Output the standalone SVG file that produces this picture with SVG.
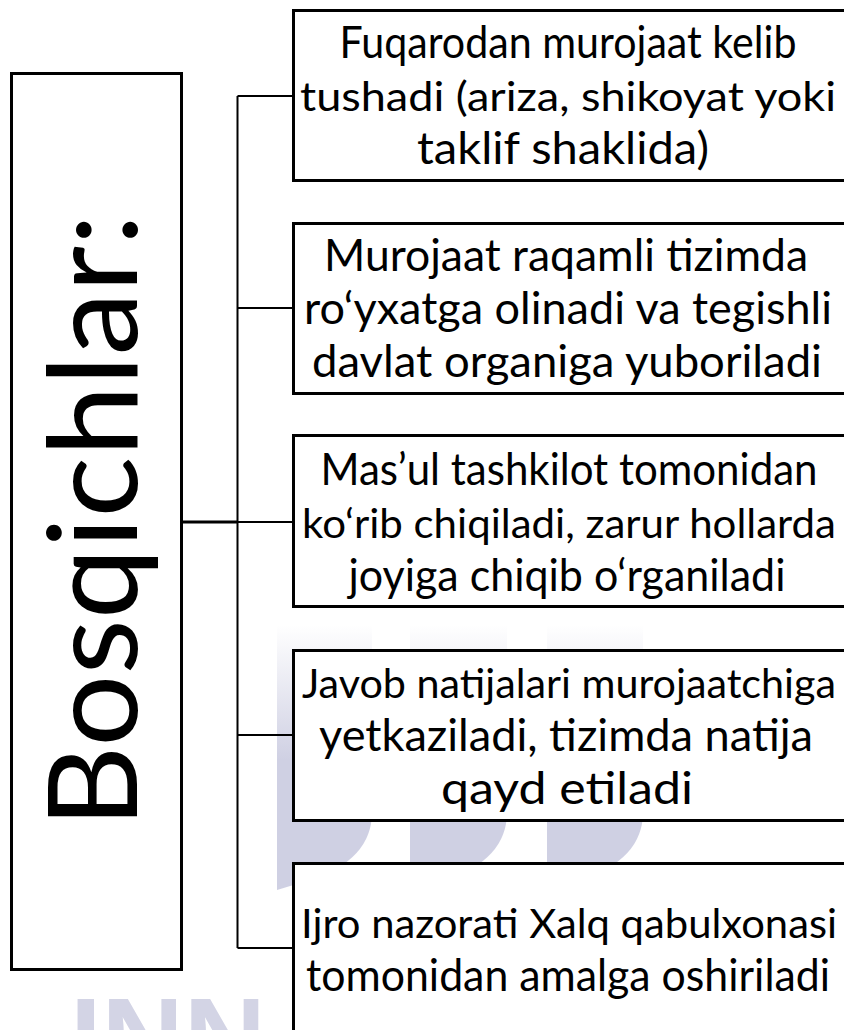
<svg xmlns="http://www.w3.org/2000/svg" width="844" height="1030" viewBox="0 0 844 1030">
<defs>
<style>
.box{fill:#ffffff;stroke:#000000;stroke-width:3}
.t{font-family:Lato,"Open Sans","Liberation Sans",sans-serif;font-size:44px;fill:#000000;text-anchor:middle}
.w{font-size:41px}
.title{font-family:Lato,"Open Sans","Liberation Sans",sans-serif;font-size:124px;fill:#000000;text-anchor:middle}
.conn{stroke:#000000;stroke-width:2;fill:none}
.wm{fill:url(#wmfade)}
</style>
<linearGradient id="wmfade" gradientUnits="userSpaceOnUse" x1="0" y1="625" x2="0" y2="760">
<stop offset="0" stop-color="#cfd0e3" stop-opacity="0"/>
<stop offset="1" stop-color="#cfd0e3" stop-opacity="1"/>
</linearGradient>
</defs>
<rect width="844" height="1030" fill="#ffffff"/>
<g id="watermark">
<path class="wm" d="M277,625 H372 V812 Q372,860 310,880 L277,890 Z"/>
<path class="wm" d="M410,625 H507 V812 Q507,860 445,880 L410,890 Z"/>
<path class="wm" d="M547,625 H643 V812 Q643,860 580,880 L547,890 Z"/>
<text x="70" y="1077" font-family="Liberation Sans, sans-serif" font-weight="bold" font-size="114" fill="#d3d4e5" textLength="196" lengthAdjust="spacingAndGlyphs">INN</text>
</g>
<g id="connectors">
<path class="conn" d="M237.5,96 V948"/>
<path class="conn" d="M237.5,96 H293"/>
<path class="conn" d="M237.5,308 H293"/>
<path class="conn" d="M237.5,522 H293"/>
<path class="conn" d="M237.5,735 H293"/>
<path class="conn" d="M237.5,948 H293"/>
<path class="conn" style="stroke-width:3" d="M182,522 H237.5"/>
</g>
<g id="title">
<rect class="box" x="11.5" y="73.5" width="170" height="896"/>
<text class="title" transform="translate(137,521) rotate(-90)" x="0" y="0" textLength="614" lengthAdjust="spacingAndGlyphs">Bosqichlar:</text>
</g>
<g id="step1">
<rect class="box" x="293.5" y="10.5" width="560" height="170"/>
<text class="t" x="568" y="58" textLength="457" lengthAdjust="spacingAndGlyphs">Fuqarodan murojaat kelib</text>
<text class="t w" x="568" y="111" textLength="536" lengthAdjust="spacingAndGlyphs">tushadi (ariza, shikoyat yoki</text>
<text class="t" x="563" y="164" textLength="292" lengthAdjust="spacingAndGlyphs">taklif shaklida)</text>
</g>
<g id="step2">
<rect class="box" x="293.5" y="223.5" width="560" height="170"/>
<text class="t" x="566" y="271" textLength="484" lengthAdjust="spacingAndGlyphs">Murojaat raqamli tizimda</text>
<text class="t" x="568" y="324" textLength="528" lengthAdjust="spacingAndGlyphs">ro‘yxatga olinadi va tegishli</text>
<text class="t" x="567" y="377" textLength="510" lengthAdjust="spacingAndGlyphs">davlat organiga yuboriladi</text>
</g>
<g id="step3">
<rect class="box" x="293.5" y="435.5" width="560" height="171"/>
<text class="t" x="569" y="485" textLength="497" lengthAdjust="spacingAndGlyphs">Mas’ul tashkilot tomonidan</text>
<text class="t w" x="569" y="538" textLength="534" lengthAdjust="spacingAndGlyphs">ko‘rib chiqiladi, zarur hollarda</text>
<text class="t" x="567" y="591" textLength="437" lengthAdjust="spacingAndGlyphs">joyiga chiqib o‘rganiladi</text>
</g>
<g id="step4">
<rect class="box" x="293.5" y="650.5" width="560" height="170"/>
<text class="t w" x="569" y="698" textLength="534" lengthAdjust="spacingAndGlyphs">Javob natijalari murojaatchiga</text>
<text class="t" x="566" y="751" textLength="494" lengthAdjust="spacingAndGlyphs">yetkaziladi, tizimda natija</text>
<text class="t" x="567" y="804" textLength="252" lengthAdjust="spacingAndGlyphs">qayd etiladi</text>
</g>
<g id="step5">
<rect class="box" x="293.5" y="863.5" width="560" height="175"/>
<text class="t w" x="569" y="938" textLength="536" lengthAdjust="spacingAndGlyphs">Ijro nazorati Xalq qabulxonasi</text>
<text class="t" x="568" y="991" textLength="524" lengthAdjust="spacingAndGlyphs">tomonidan amalga oshiriladi</text>
</g>
</svg>
